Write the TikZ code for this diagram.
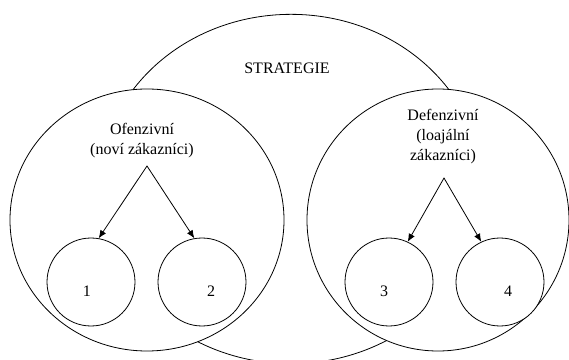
\documentclass[tikz,border=0pt]{standalone}
\usepackage{fontspec}
\setmainfont{Liberation Serif}
\usetikzlibrary{shapes.geometric,arrows.meta}
\begin{document}
\begin{tikzpicture}[x=0.75pt,y=-0.75pt,line join=round,line cap=round,>={Latex[length=6pt,width=5pt]},line width=0.6pt]
	\tikzset{every node/.style={font=\rmfamily\fontsize{12}{15}\selectfont},
		kruh/.style={draw,ellipse,fill=white,inner sep=0pt},
		maly/.style={draw,circle,fill=white,inner sep=0pt,minimum size=66pt}}
	\useasboundingbox (0,0) rectangle (569,360);
	\clip (0,0) rectangle (569,360);
	% velka elipsa a dva kruhy
	\node[kruh,minimum width=288pt,minimum height=262pt] (strat) at (291,189) {};
	\node[kruh,minimum width=205.5pt,minimum height=196.5pt] (ofen) at (147,220) {};
	\node[kruh,minimum width=196.5pt,minimum height=196.5pt] (defen) at (438,220) {};
	\node (strattxt) at (287,68) {STRATEGIE};
	\node[align=center] (oftxt) at (142,141) {Ofenzivní\\(noví zákazníci)};
	\node[align=center] (deftxt) at (443,137) {Defenzivní\\(loajální\\zákazníci)};
	% male kruhy
	\foreach \n/\x/\lx in {1/91/87,2/202/211,3/389/384,4/500/508}{
		\node[maly] (c\n) at (\x,282) {};
		\node (n\n) at (\lx,291) {\n};
	}
	\coordinate (ofa) at (147,166);
	\coordinate (defa) at (444,178);
	\draw[->] (ofa) -- (c1.80);
	\draw[->] (ofa) -- (c2.100);
	\draw[->] (defa) -- (c3.65);
	\draw[->] (defa) -- (c4.115);
\end{tikzpicture}
\end{document}
